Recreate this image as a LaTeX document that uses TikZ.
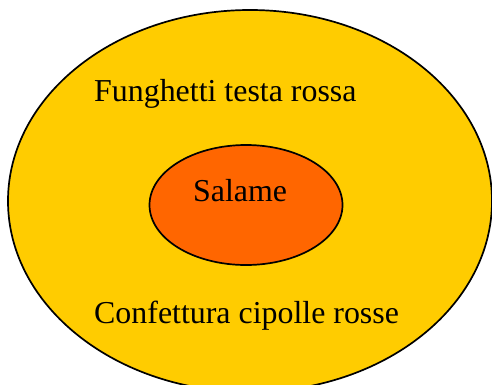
\documentclass[tikz,border=0pt]{standalone}
\usepackage{fontspec}
\setmainfont{Liberation Serif}
\usetikzlibrary{shapes.geometric}
\definecolor{outerfill}{HTML}{FFCC00}
\definecolor{innerfill}{HTML}{FF6600}
\tikzset{
  blob/.style={ellipse, draw=black, line width=1.7pt, inner sep=0pt},
  lbl/.style={anchor=base west, inner sep=0pt, font=\fontsize{31.9}{36}\selectfont, text=black}
}
\begin{document}
\begin{tikzpicture}[x=1pt,y=-1pt]
\useasboundingbox (0,0) rectangle (492,384);
\clip (0,0) rectangle (492,384);
\node[blob, fill=outerfill, minimum width=484pt, minimum height=382pt] (outer) at (250,201) {};
\node[blob, fill=innerfill, minimum width=193pt, minimum height=120pt] (inner) at (246,205) {};
\node[lbl] (fung) at (94,101) {Funghetti testa rossa};
\node[lbl] (sal) at (193,201) {Salame};
\node[lbl] (conf) at (94,323) {Confettura cipolle rosse};
\end{tikzpicture}
\end{document}
